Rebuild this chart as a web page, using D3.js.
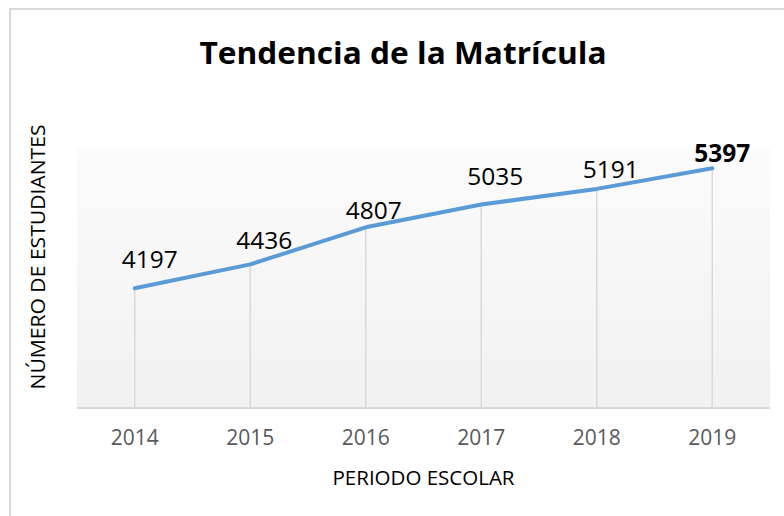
<!DOCTYPE html>
<html>
<head>
<meta charset="utf-8">
<script src="https://cdn.jsdelivr.net/npm/d3@7"></script>
<style>
  html, body { margin: 0; padding: 0; background: #ffffff; }
  svg { display: block; }
  text { font-family: "Open Sans", "Liberation Sans", sans-serif; }
</style>
</head>
<body>
<svg id="chart" width="784" height="516"></svg>
<script>
// ---- data ----
const years = ["2014", "2015", "2016", "2017", "2018", "2019"];
const enrollment = [4197, 4436, 4807, 5035, 5191, 5397];
const chartTitle = "Tendencia de la Matrícula";
const xTitle = "PERIODO ESCOLAR";
const yTitle = "NÚMERO DE ESTUDIANTES";
const yDomain = [3000, 5600];

// ---- layout ----
const W = 784, H = 516;
const plot = { left: 77, right: 770, top: 148, bottom: 408 };
// small per-label nudges (dx, dy) relative to the point, like the reference
const labelNudge = [[15, -20], [14, -15], [8, -8], [14, -20], [14, -11], [10, -6]];

const svg = d3.select("#chart");

function fitWidth(sel, target) {
  const len = sel.node().getComputedTextLength();
  if (Math.abs(len - target) / target > 0.015) {
    sel.attr("textLength", target).attr("lengthAdjust", "spacingAndGlyphs");
  }
}

// gradient
const defs = svg.append("defs");
const grad = defs.append("linearGradient").attr("id", "bg").attr("x1", 0).attr("y1", 0).attr("x2", 0).attr("y2", 1);
grad.append("stop").attr("offset", "0%").attr("stop-color", "#fbfbfb");
grad.append("stop").attr("offset", "100%").attr("stop-color", "#f1f1f1");

// outer border (top + left)
svg.append("path")
  .attr("d", `M10,${H} L10,9 L${W},9`)
  .attr("fill", "none").attr("stroke", "#d9d9d9").attr("stroke-width", 2);

// scales
const x = d3.scaleBand().domain(years).range([plot.left, plot.right]);
const y = d3.scaleLinear().domain(yDomain).range([plot.bottom, plot.top]);
const cx = d => x(d) + x.bandwidth() / 2;

// plot area
svg.append("rect")
  .attr("x", plot.left).attr("y", y(yDomain[1]))
  .attr("width", plot.right - plot.left).attr("height", y(yDomain[0]) - y(yDomain[1]))
  .attr("fill", "url(#bg)");

const data = years.map((yr, i) => ({ yr, v: enrollment[i], i }));

// drop lines
svg.append("g").selectAll("line").data(data).join("line")
  .attr("x1", d => cx(d.yr)).attr("x2", d => cx(d.yr))
  .attr("y1", d => y(d.v)).attr("y2", y(yDomain[0]))
  .attr("stroke", "#d9d9d9").attr("stroke-width", 1.5);

// x axis
const xAxis = svg.append("g")
  .attr("transform", `translate(0,${y(yDomain[0])})`)
  .call(d3.axisBottom(x).tickSize(0).tickPadding(0));
xAxis.select(".domain").attr("stroke", "#d9d9d9").attr("stroke-width", 2)
  .attr("d", `M${plot.left},0H${plot.right}`);
xAxis.selectAll(".tick text")
  .attr("y", 37).attr("dy", null)
  .attr("fill", "#595959").attr("font-size", 21)
  .attr("font-family", "Open Sans, sans-serif");

// line
svg.append("path")
  .datum(data)
  .attr("fill", "none")
  .attr("stroke", "#5b9bd5").attr("stroke-width", 4)
  .attr("stroke-linecap", "round").attr("stroke-linejoin", "round")
  .attr("d", d3.line().x(d => cx(d.yr)).y(d => y(d.v)));

// data labels
svg.append("g").selectAll("text").data(data).join("text")
  .attr("x", d => cx(d.yr) + labelNudge[d.i][0])
  .attr("y", d => y(d.v) + labelNudge[d.i][1])
  .attr("text-anchor", "middle")
  .attr("font-size", 24.5)
  .attr("font-weight", d => d.i === data.length - 1 ? 700 : 400)
  .attr("fill", "#000")
  .text(d => d.v);

// title
const t = svg.append("text")
  .attr("x", 403).attr("y", 64)
  .attr("text-anchor", "middle")
  .attr("font-size", 31).attr("font-weight", 700).attr("fill", "#000")
  .text(chartTitle);
fitWidth(t, 407);

// x title
const xt = svg.append("text")
  .attr("x", (plot.left + plot.right) / 2).attr("y", 485)
  .attr("text-anchor", "middle")
  .attr("font-size", 20).attr("fill", "#000")
  .text(xTitle);
fitWidth(xt, 182);

// y title
const yt = svg.append("text")
  .attr("transform", "translate(45,257) rotate(-90)")
  .attr("text-anchor", "middle")
  .attr("font-size", 20).attr("fill", "#000")
  .text(yTitle);
fitWidth(yt, 265);
</script>
</body>
</html>
